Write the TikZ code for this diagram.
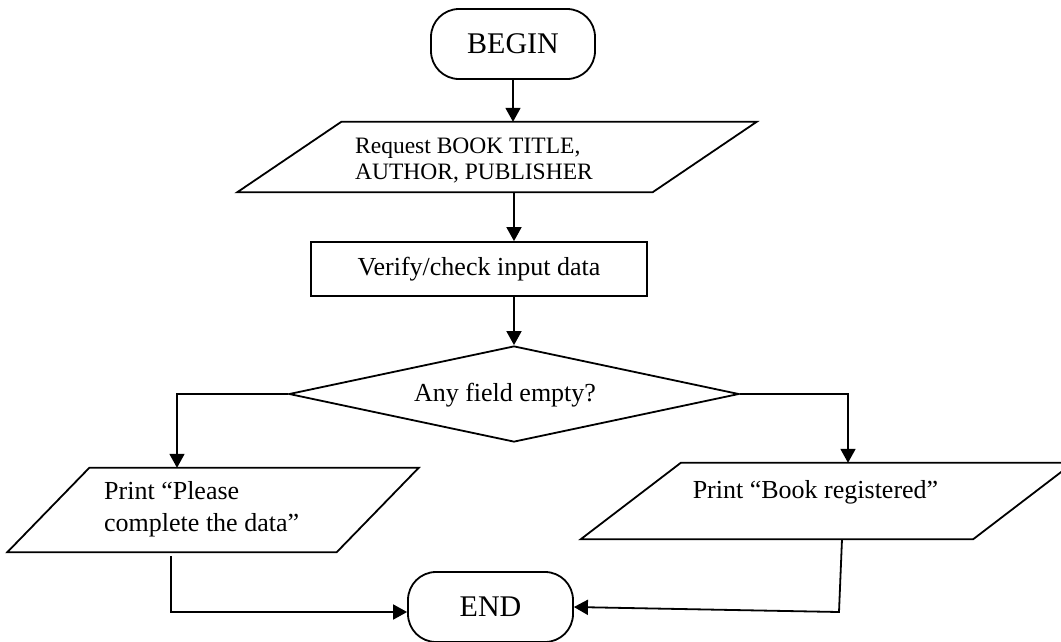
\documentclass[tikz,border=0pt]{standalone}
\usepackage{fontspec}
\setmainfont{Liberation Serif}
\usetikzlibrary{arrows.meta,shapes.geometric}
\tikzset{
  line/.style={line width=1.8pt},
  arr/.style={line, -{Triangle[length=14pt,width=15pt]}},
  term/.style={draw, line width=1.8pt, rounded corners=28pt, minimum width=164pt, minimum height=70pt, inner sep=0pt, font=\fontsize{30}{36}\selectfont},
  procbox/.style={draw, line width=1.8pt, minimum width=336pt, minimum height=54pt, inner sep=0pt, font=\fontsize{26}{31}\selectfont},
  iobody/.style={inner sep=0pt, draw=none},
  decision/.style={diamond, draw, line width=1.8pt, minimum width=450pt, minimum height=96pt, inner sep=0pt},
  txt/.style={inner sep=0pt, align=left, font=\fontsize{26}{32}\selectfont},
}
\newcommand\iopoly[2]{%
  \draw[line] ([xshift=#2]#1.north west) -- ([xshift=#2]#1.north east)
    -- ([xshift=-#2]#1.south east) -- ([xshift=-#2]#1.south west) -- cycle;}
\begin{document}
\begin{tikzpicture}[x=1pt,y=-1pt]
\useasboundingbox (0,0) rectangle (1061,641);

% nodes
\node[term] (begin) at (513,44) {BEGIN};

\node[iobody, minimum width=415pt, minimum height=70pt] (req) at (497,157) {};
\iopoly{req}{52pt}
\node[txt, anchor=west, font=\fontsize{23.5}{26}\selectfont] (reqt) at (355,161) {Request BOOK TITLE,\\AUTHOR, PUBLISHER};

\node[procbox] (ver) at (479,269) {Verify/check input data};

\node[decision] (dec) at (514,394) {};
\node[txt] (dect) at (505,395) {Any field empty?};

\node[iobody, minimum width=329pt, minimum height=84pt] (lp) at (213,510) {};
\iopoly{lp}{41pt}
\node[txt, anchor=west] (lpt) at (104,509) {Print “Please\\complete the data”};

\node[iobody, minimum width=392pt, minimum height=76pt] (rp) at (827,501) {};
\iopoly{rp}{50pt}
\node[txt] (rpt) at (815.5,492) {Print “Book registered”};

\node[term, minimum width=165pt] (end) at (490.5,607) {END};

\coordinate (rc) at (839,612);

% connectors
\draw[arr] (begin.south) -- (begin.south |- req.north);
\draw[arr] (dec.north |- req.south) -- (dec.north |- ver.north);
\draw[arr] (dec.north |- ver.south) -- (dec.north);
\draw[arr] (dec.west) -| ([xshift=-36pt]lp.north);
\draw[arr] (dec.east) -| ([xshift=21pt]rp.north);
\draw[arr, shorten <=4pt] ([xshift=-42pt]lp.south) |- ([yshift=-5pt]end.west);
\draw[arr] ([xshift=15pt]rp.south) -- (rc) -- (end.east);
\end{tikzpicture}
\end{document}
